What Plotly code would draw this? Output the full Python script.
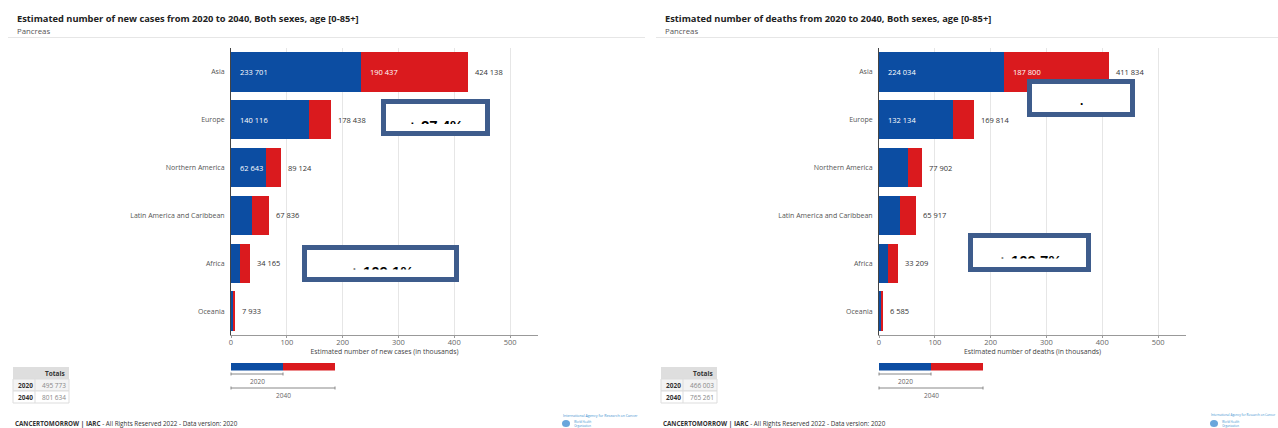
import plotly.graph_objects as go

W, H = 1278, 428

# ---------------- data ----------------
regions = ["Asia", "Europe", "Northern America", "Latin America and Caribbean", "Africa", "Oceania"]
cases_2020 = [233701, 140116, 62643, 37774, 16339, 5200]
cases_2040 = [424138, 178438, 89124, 67836, 34165, 7933]
deaths_2020 = [224034, 132134, 51800, 37598, 15837, 4600]
deaths_2040 = [411834, 169814, 77902, 65917, 33209, 6585]
x_ticks = [0, 100, 200, 300, 400, 500]
box_labels_cases = ["+ 27.4%", "+ 109.1%"]
box_labels_deaths = [".", "+ 109.7%"]

BLUE = "#0C4DA2"
RED = "#DA1A1E"
BOXC = "#3E5C8C"
FONT = "Open Sans"


def px(x):
    return x / W


def py(y):
    return 1 - y / H


def fmt(v):
    return f"{v:,}".replace(",", " ")


fig = go.Figure()
annotations = []
shapes = []


def note(x, y, text, size, color, xanchor="left", bold=False, family=FONT):
    annotations.append(dict(x=px(x), y=py(y), xref="paper", yref="paper", xanchor=xanchor,
                            yanchor="middle", showarrow=False,
                            text=("<b>" + text + "</b>") if bold else text,
                            font=dict(family=family, size=size, color=color)))


panels = [
    dict(title="Estimated number of new cases from 2020 to 2040, Both sexes, age [0-85+]",
         axis_title="Estimated number of new cases (in thousands)",
         v2020=cases_2020, v2040=cases_2040, dx=0, xa="x", ya="y"),
    dict(title="Estimated number of deaths from 2020 to 2040, Both sexes, age [0-85+]",
         axis_title="Estimated number of deaths (in thousands)",
         v2020=deaths_2020, v2040=deaths_2040, dx=648, xa="x2", ya="y2"),
]

for i, p in enumerate(panels):
    dx = p["dx"]
    v20, v40 = p["v2020"], p["v2040"]
    inc = [b - a for a, b in zip(v20, v40)]
    fig.add_trace(go.Bar(orientation="h", y=regions, x=[v / 1000 for v in v20],
                         marker=dict(color=BLUE, line=dict(width=0)),
                         xaxis=p["xa"], yaxis=p["ya"], showlegend=False, hoverinfo="skip"))
    fig.add_trace(go.Bar(orientation="h", y=regions, x=[v / 1000 for v in inc],
                         marker=dict(color=RED, line=dict(width=0)),
                         xaxis=p["xa"], yaxis=p["ya"], showlegend=False, hoverinfo="skip"))
    # value labels
    for r, a, d, t in zip(regions, v20, inc, v40):
        if a >= 55000:
            annotations.append(dict(x=0, y=r, xref=p["xa"], yref=p["ya"], text=fmt(a),
                                    xanchor="left", yanchor="middle", xshift=7, showarrow=False,
                                    font=dict(family=FONT, size=7.5, color="white")))
        if d >= 55000:
            annotations.append(dict(x=a / 1000, y=r, xref=p["xa"], yref=p["ya"], text=fmt(d),
                                    xanchor="left", yanchor="middle", xshift=7, showarrow=False,
                                    font=dict(family=FONT, size=7.5, color="white")))
        annotations.append(dict(x=t / 1000, y=r, xref=p["xa"], yref=p["ya"], text=fmt(t),
                                xanchor="left", yanchor="middle", xshift=5, showarrow=False,
                                font=dict(family=FONT, size=7.5, color="#333")))

    # titles
    note(15 + dx, 19, p["title"], 9.3, "#222", bold=True)
    note(15 + dx, 30.8, "Pancreas", 7.8, "#555")
    shapes.append(dict(type="line", xref="paper", yref="paper", x0=px(8 + dx), x1=px(645 + dx),
                       y0=py(37.5), y1=py(37.5), line=dict(color="#e6e6e6", width=1)))

    # axes
    xkey = "xaxis" if i == 0 else "xaxis2"
    ykey = "yaxis" if i == 0 else "yaxis2"
    fig.update_layout(**{
        xkey: dict(domain=[px(231 + dx), px(538 + dx)], range=[0, 550], anchor=p["ya"],
                   tickvals=x_ticks, showgrid=True, gridcolor="#e6e6e6", gridwidth=1,
                   showline=True, linecolor="#999", linewidth=1, ticks="outside", ticklen=2,
                   tickcolor="#999", zeroline=False, automargin=False, ticklabelstandoff=-2,
                   tickfont=dict(family=FONT, size=7.5, color="#666"),
                   title=dict(text=p["axis_title"], standoff=2,
                              font=dict(family=FONT, size=6.8, color="#444"))),
        ykey: dict(domain=[py(335), py(48)], anchor=p["xa"], autorange="reversed",
                   showline=True, linecolor="#444", linewidth=1, ticks="", showgrid=False,
                   automargin=False, ticklabelstandoff=4,
                   tickfont=dict(family=FONT, size=7, color="#555")),
    })

    # totals table
    tx0, tx1, tdiv = 13 + dx, 69 + dx, 35 + dx
    shapes.append(dict(type="rect", xref="paper", yref="paper", x0=px(tx0), x1=px(tx1),
                       y0=py(379), y1=py(367), fillcolor="#dedede", line=dict(width=0)))
    shapes.append(dict(type="rect", xref="paper", yref="paper", x0=px(tx0), x1=px(tx1),
                       y0=py(391), y1=py(379), fillcolor="#f3f3f3", line=dict(color="#dddddd", width=1)))
    shapes.append(dict(type="rect", xref="paper", yref="paper", x0=px(tx0), x1=px(tx1),
                       y0=py(403), y1=py(391), fillcolor="#ffffff", line=dict(color="#dddddd", width=1)))
    shapes.append(dict(type="line", xref="paper", yref="paper", x0=px(tdiv), x1=px(tdiv),
                       y0=py(403), y1=py(379), line=dict(color="#dddddd", width=1)))
    note(tx1 - 2, 373, "Totals", 6.5, "#333", xanchor="right", bold=True)
    for yy, lab, val in [(385, "2020", sum(v20)), (397, "2040", sum(v40))]:
        note(tx0 + 3, yy, lab, 6.5, "#333", bold=True)
        note(tdiv + 5, yy, fmt(val), 6.5, "#888")

    # legend bar
    lx0, lxm, lx1 = 231 + dx, 283 + dx, 335 + dx
    shapes.append(dict(type="rect", xref="paper", yref="paper", x0=px(lx0), x1=px(lxm),
                       y0=py(370.5), y1=py(363), fillcolor=BLUE, line=dict(width=0)))
    shapes.append(dict(type="rect", xref="paper", yref="paper", x0=px(lxm), x1=px(lx1),
                       y0=py(370.5), y1=py(363), fillcolor=RED, line=dict(width=0)))
    for (a, b, yl, lab) in [(lx0, lxm, 374, "2020"), (lx0, lx1, 388, "2040")]:
        shapes.append(dict(type="line", xref="paper", yref="paper", x0=px(a), x1=px(b),
                           y0=py(yl), y1=py(yl), line=dict(color="#888", width=1)))
        for xe in (a, b):
            shapes.append(dict(type="line", xref="paper", yref="paper", x0=px(xe), x1=px(xe),
                               y0=py(yl - 1.5), y1=py(yl + 1.5), line=dict(color="#888", width=1)))
        note((a + b) / 2, yl + 7, lab, 6.5, "#666", xanchor="center")

    # footer
    note(13 + dx, 423.5, "<b>CANCERTOMORROW | IARC</b> - All Rights Reserved 2022 - Data version: 2020",
         6.3, "#333")
    # logo
    note(561 + dx, 415, "International Agency for Research on Cancer", 3.6 if dx == 0 else 3.1, "#3b8fd0")
    shapes.append(dict(type="circle", xref="paper", yref="paper", x0=px(562 + dx), x1=px(570 + dx),
                       y0=py(427), y1=py(420), fillcolor="#6aa6dc", line=dict(width=0)))
    note(572 + dx, 423.5, "World Health<br>Organization", 2.8, "#3b8fd0")

# overlay boxes (x0, y0, x1, y1, label, window top, window height, text centre x)
boxes = [
    (381, 99, 490, 136, box_labels_cases[0], 117, 7, 435.5),
    (302, 245, 459, 282, box_labels_cases[1], 263, 6.5, 381.5),
    (1027, 79, 1135, 117, box_labels_deaths[0], None, None, 1081),
    (968, 233, 1091, 272, box_labels_deaths[1], 252, 6.5, 1030),
]
for (x0, y0, x1, y1, lab, wt, wh, cx) in boxes:
    bw = 5
    annotations.append(dict(x=px((x0 + x1) / 2), y=py((y0 + y1) / 2), xref="paper", yref="paper",
                            xanchor="center", yanchor="middle", showarrow=False, text="&nbsp;",
                            width=(x1 - x0) - 2 * bw, height=(y1 - y0) - 2 * bw,
                            bgcolor="white", bordercolor=BOXC, borderwidth=bw, borderpad=0))
    if wt is None:
        note(cx, 100.5, lab, 12, "black", xanchor="center", bold=True, family="Liberation Sans")
    else:
        annotations.append(dict(x=px(cx), y=py(wt), xref="paper", yref="paper",
                                xanchor="center", yanchor="top", showarrow=False,
                                text="<b>" + lab + "</b>", height=wh, valign="top",
                                borderpad=0, borderwidth=0,
                                font=dict(family="Liberation Sans", size=15, color="black")))

fig.update_layout(width=W, height=H, margin=dict(l=0, r=0, t=0, b=0),
                  paper_bgcolor="white", plot_bgcolor="white", barmode="stack", bargap=0.18,
                  annotations=annotations, shapes=shapes, showlegend=False,
                  font=dict(family=FONT))

fig.write_html("out.html", config={"displayModeBar": False},
               post_script="document.body.style.margin='0';document.body.style.overflow='hidden';"
                           "document.documentElement.style.overflow='hidden';")
